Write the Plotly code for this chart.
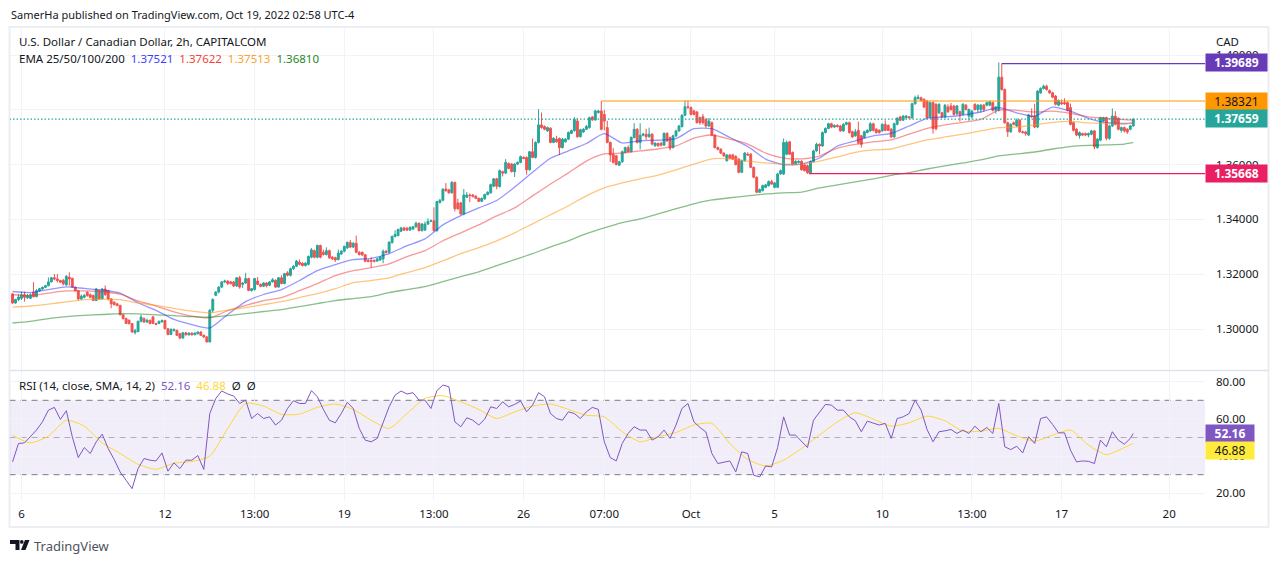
import plotly.graph_objects as go

# 2h candles, USDCAD (one row = 10 bars)
opens = [
1.3128,1.3095,1.3108,1.3112,1.3125,1.3114,1.3112,1.3134,1.3118,1.3140,
1.3146,1.3152,1.3158,1.3172,1.3187,1.3183,1.3177,1.3177,1.3161,1.3189,
1.3185,1.3153,1.3140,1.3110,1.3116,1.3134,1.3125,1.3122,1.3104,1.3140,
1.3110,1.3146,1.3140,1.3110,1.3098,1.3092,1.3086,1.3052,1.3038,1.3032,
1.3020,1.2987,1.2991,1.3028,1.3038,1.3026,1.3032,1.3044,1.3020,1.3020,
1.3026,1.3031,1.3001,1.2980,1.2995,1.2995,1.2983,1.2967,1.2986,1.2979,
1.2985,1.2979,1.2983,1.2989,1.2977,1.2971,1.2953,1.3068,1.3123,1.3135,
1.3153,1.3172,1.3175,1.3172,1.3172,1.3157,1.3187,1.3163,1.3168,1.3184,
1.3141,1.3144,1.3175,1.3163,1.3156,1.3168,1.3160,1.3172,1.3178,1.3153,
1.3187,1.3166,1.3205,1.3196,1.3220,1.3229,1.3244,1.3240,1.3232,1.3236,
1.3262,1.3286,1.3262,1.3305,1.3280,1.3272,1.3286,1.3262,1.3260,1.3254,
1.3274,1.3284,1.3296,1.3316,1.3299,1.3313,1.3280,1.3280,1.3271,1.3250,
1.3250,1.3250,1.3248,1.3252,1.3256,1.3284,1.3280,1.3315,1.3338,1.3341,
1.3357,1.3369,1.3368,1.3361,1.3365,1.3373,1.3386,1.3359,1.3361,1.3383,
1.3393,1.3395,1.3359,1.3462,1.3470,1.3511,1.3508,1.3497,1.3535,1.3460,
1.3460,1.3420,1.3481,1.3489,1.3489,1.3485,1.3477,1.3466,1.3475,1.3491,
1.3497,1.3521,1.3548,1.3520,1.3574,1.3569,1.3604,1.3602,1.3574,1.3602,
1.3608,1.3626,1.3626,1.3581,1.3647,1.3626,1.3681,1.3745,1.3739,1.3723,
1.3733,1.3681,1.3693,1.3695,1.3662,1.3683,1.3693,1.3714,1.3724,1.3759,
1.3702,1.3719,1.3729,1.3735,1.3774,1.3763,1.3790,1.3796,1.3783,1.3735,
1.3681,1.3638,1.3632,1.3598,1.3610,1.3644,1.3662,1.3647,1.3699,1.3729,
1.3681,1.3707,1.3711,1.3702,1.3711,1.3669,1.3677,1.3678,1.3671,1.3714,
1.3699,1.3662,1.3705,1.3723,1.3739,1.3780,1.3811,1.3808,1.3796,1.3792,
1.3771,1.3775,1.3765,1.3741,1.3753,1.3707,1.3662,1.3656,1.3642,1.3614,
1.3635,1.3635,1.3630,1.3620,1.3572,1.3614,1.3638,1.3638,1.3590,1.3554,
1.3499,1.3505,1.3517,1.3523,1.3538,1.3517,1.3517,1.3566,1.3566,1.3638,
1.3683,1.3644,1.3602,1.3608,1.3612,1.3599,1.3596,1.3570,1.3611,1.3650,
1.3674,1.3668,1.3717,1.3732,1.3749,1.3737,1.3743,1.3741,1.3723,1.3747,
1.3753,1.3720,1.3705,1.3725,1.3705,1.3699,1.3717,1.3723,1.3749,1.3729,
1.3725,1.3723,1.3747,1.3743,1.3729,1.3701,1.3747,1.3774,1.3762,1.3771,
1.3774,1.3771,1.3822,1.3841,1.3844,1.3838,1.3832,1.3774,1.3826,1.3820,
1.3789,1.3789,1.3774,1.3810,1.3814,1.3814,1.3786,1.3793,1.3783,1.3817,
1.3777,1.3774,1.3820,1.3801,1.3801,1.3817,1.3817,1.3817,1.3826,1.3798,
1.3798,1.3919,1.3874,1.3753,1.3720,1.3753,1.3741,1.3762,1.3720,1.3719,
1.3708,1.3777,1.3777,1.3737,1.3862,1.3878,1.3886,1.3870,1.3862,1.3850,
1.3817,1.3826,1.3826,1.3826,1.3808,1.3753,1.3729,1.3705,1.3713,1.3713,
1.3708,1.3711,1.3723,1.3662,1.3689,1.3759,1.3771,1.3696,1.3741,1.3777,
1.3769,1.3725,1.3735,1.3729,1.3729,1.3741,
]
highs = [
1.3131,1.3110,1.3128,1.3136,1.3136,1.3128,1.3130,1.3171,1.3146,1.3150,
1.3155,1.3161,1.3188,1.3190,1.3201,1.3201,1.3180,1.3183,1.3197,1.3207,
1.3187,1.3155,1.3142,1.3126,1.3128,1.3138,1.3130,1.3126,1.3150,1.3144,
1.3150,1.3159,1.3143,1.3112,1.3101,1.3095,1.3089,1.3055,1.3042,1.3035,
1.3022,1.3001,1.3031,1.3052,1.3042,1.3038,1.3034,1.3048,1.3023,1.3031,
1.3035,1.3034,1.3003,1.3002,1.3001,1.2998,1.2986,1.2989,1.2990,1.2988,
1.2988,1.2988,1.2991,1.2992,1.2980,1.2974,1.3074,1.3112,1.3138,1.3156,
1.3175,1.3180,1.3178,1.3176,1.3175,1.3190,1.3194,1.3171,1.3205,1.3187,
1.3150,1.3187,1.3190,1.3166,1.3171,1.3171,1.3175,1.3186,1.3181,1.3190,
1.3196,1.3205,1.3211,1.3224,1.3233,1.3252,1.3254,1.3244,1.3244,1.3268,
1.3296,1.3290,1.3308,1.3308,1.3290,1.3298,1.3290,1.3266,1.3264,1.3290,
1.3288,1.3305,1.3320,1.3325,1.3317,1.3341,1.3284,1.3283,1.3274,1.3255,
1.3262,1.3254,1.3260,1.3266,1.3290,1.3288,1.3320,1.3341,1.3360,1.3366,
1.3373,1.3373,1.3372,1.3375,1.3376,1.3392,1.3389,1.3387,1.3392,1.3404,
1.3400,1.3444,1.3468,1.3475,1.3514,1.3533,1.3511,1.3540,1.3538,1.3475,
1.3464,1.3511,1.3500,1.3495,1.3493,1.3488,1.3480,1.3480,1.3494,1.3503,
1.3531,1.3551,1.3552,1.3582,1.3578,1.3620,1.3608,1.3606,1.3606,1.3612,
1.3633,1.3630,1.3630,1.3650,1.3695,1.3685,1.3802,1.3790,1.3743,1.3739,
1.3736,1.3700,1.3705,1.3699,1.3697,1.3697,1.3721,1.3728,1.3773,1.3770,
1.3731,1.3733,1.3745,1.3775,1.3777,1.3800,1.3800,1.38321,1.3800,1.3760,
1.3684,1.3660,1.3636,1.3614,1.3651,1.3666,1.3670,1.3703,1.3751,1.3733,
1.3751,1.3716,1.3731,1.3735,1.3715,1.3682,1.3681,1.3682,1.3718,1.3718,
1.3702,1.3709,1.3727,1.3745,1.3784,1.3834,1.3834,1.3812,1.3800,1.3796,
1.3775,1.3785,1.3769,1.3770,1.3757,1.3711,1.3666,1.3660,1.3645,1.3639,
1.3639,1.3640,1.3634,1.3624,1.3618,1.3646,1.3645,1.3642,1.3593,1.3557,
1.3513,1.3527,1.3530,1.3542,1.3545,1.3537,1.3570,1.3582,1.3695,1.3688,
1.3687,1.3648,1.3616,1.3616,1.3616,1.3603,1.3600,1.3615,1.3654,1.3680,
1.3678,1.3721,1.3736,1.3753,1.3753,1.3747,1.3747,1.3745,1.3751,1.3757,
1.3757,1.3724,1.3730,1.3757,1.3709,1.3724,1.3729,1.3755,1.3753,1.3733,
1.3729,1.3751,1.3762,1.3747,1.3733,1.3753,1.3773,1.3778,1.3781,1.3781,
1.3778,1.3826,1.3852,1.3855,1.3848,1.3842,1.3836,1.3830,1.3830,1.3824,
1.3824,1.3793,1.3821,1.3820,1.3825,1.3818,1.3818,1.3797,1.3824,1.3821,
1.3805,1.3800,1.3824,1.3821,1.3821,1.3821,1.3830,1.3833,1.3830,1.3814,
1.3973,1.39689,1.3878,1.3757,1.3751,1.3757,1.3768,1.3766,1.3724,1.3723,
1.3785,1.3805,1.3822,1.3872,1.3882,1.3892,1.3892,1.3874,1.3866,1.3854,
1.3838,1.3838,1.3842,1.3830,1.3823,1.3757,1.3733,1.3721,1.3717,1.3717,
1.3717,1.3727,1.3727,1.3697,1.3775,1.3775,1.3775,1.3745,1.3805,1.3795,
1.3773,1.3739,1.3739,1.3733,1.3745,1.3769,
]
lows = [
1.3092,1.3092,1.3102,1.3106,1.3100,1.3110,1.3110,1.3115,1.3116,1.3136,
1.3143,1.3150,1.3156,1.3170,1.3178,1.3170,1.3168,1.3159,1.3158,1.3158,
1.3150,1.3137,1.3104,1.3106,1.3112,1.3118,1.3112,1.3102,1.3102,1.3106,
1.3108,1.3122,1.3104,1.3076,1.3086,1.3083,1.3050,1.3035,1.3018,1.3016,
1.2986,1.2980,1.2988,1.3024,1.3022,1.3022,1.3017,1.3018,1.3014,1.3018,
1.3024,1.2999,1.2977,1.2978,1.2990,1.2974,1.2963,1.2965,1.2976,1.2976,
1.2976,1.2977,1.2980,1.2975,1.2968,1.2951,1.2951,1.3060,1.3120,1.3130,
1.3150,1.3168,1.3160,1.3162,1.3154,1.3154,1.3147,1.3150,1.3165,1.3138,
1.3136,1.3140,1.3160,1.3152,1.3153,1.3152,1.3156,1.3170,1.3150,1.3151,
1.3163,1.3163,1.3192,1.3192,1.3216,1.3226,1.3232,1.3228,1.3228,1.3232,
1.3258,1.3258,1.3258,1.3258,1.3268,1.3268,1.3256,1.3252,1.3245,1.3250,
1.3270,1.3280,1.3292,1.3296,1.3296,1.3277,1.3268,1.3266,1.3244,1.3243,
1.3224,1.3243,1.3245,1.3248,1.3240,1.3276,1.3276,1.3312,1.3334,1.3338,
1.3354,1.3358,1.3358,1.3358,1.3362,1.3370,1.3356,1.3356,1.3358,1.3380,
1.3390,1.3356,1.3355,1.3458,1.3466,1.3501,1.3494,1.3494,1.3429,1.3435,
1.3416,1.3416,1.3478,1.3463,1.3480,1.3474,1.3463,1.3463,1.3472,1.3488,
1.3494,1.3518,1.3510,1.3516,1.3557,1.3566,1.3583,1.3571,1.3555,1.3598,
1.3605,1.3620,1.3563,1.3578,1.3623,1.3622,1.3677,1.3731,1.3725,1.3720,
1.3678,1.3678,1.3680,1.3635,1.3659,1.3680,1.3690,1.3711,1.3720,1.3698,
1.3699,1.3716,1.3726,1.3731,1.3760,1.3760,1.3786,1.3725,1.3725,1.3678,
1.3610,1.3604,1.3597,1.3595,1.3607,1.3641,1.3644,1.3644,1.3695,1.3677,
1.3655,1.3703,1.3690,1.3698,1.3670,1.3665,1.3665,1.3666,1.3668,1.3683,
1.3652,1.3659,1.3700,1.3720,1.3735,1.3777,1.3804,1.3780,1.3780,1.3750,
1.3745,1.3746,1.3735,1.3738,1.3704,1.3659,1.3652,1.3638,1.3628,1.3611,
1.3620,1.3617,1.3597,1.3568,1.3569,1.3611,1.3632,1.3587,1.3550,1.3496,
1.3496,1.3502,1.3514,1.3520,1.3526,1.3514,1.3514,1.3563,1.3562,1.3634,
1.3635,1.3598,1.3599,1.3604,1.3578,1.3575,1.35668,1.35668,1.3608,1.3647,
1.3638,1.3665,1.3714,1.3729,1.3733,1.3734,1.3735,1.3720,1.3720,1.3743,
1.3713,1.3698,1.3702,1.3674,1.3662,1.3695,1.3714,1.3720,1.3721,1.3713,
1.3713,1.3720,1.3722,1.3722,1.3698,1.3698,1.3743,1.3758,1.3759,1.3768,
1.3768,1.3767,1.3819,1.3838,1.3830,1.3806,1.3768,1.3770,1.3713,1.3725,
1.3785,1.3770,1.3770,1.3789,1.3797,1.3780,1.3780,1.3757,1.3780,1.3798,
1.3760,1.3768,1.3797,1.3790,1.3790,1.3792,1.3813,1.3813,1.3794,1.3786,
1.3794,1.3870,1.3749,1.3701,1.3716,1.3743,1.3737,1.3716,1.3713,1.3705,
1.3704,1.3771,1.3733,1.3733,1.3858,1.3874,1.3870,1.3858,1.3842,1.3816,
1.3813,1.3818,1.3818,1.3794,1.3743,1.3721,1.3704,1.3695,1.3704,1.3704,
1.3700,1.3707,1.3656,1.3658,1.3685,1.3755,1.3688,1.3690,1.3737,1.3743,
1.3725,1.3717,1.3717,1.3712,1.3725,1.3738,
]
closes = [
1.3095,1.3108,1.3117,1.3125,1.3116,1.3122,1.3125,1.3118,1.3140,1.3147,
1.3152,1.3158,1.3172,1.3187,1.3183,1.3177,1.3171,1.3165,1.3192,1.3183,
1.3153,1.3140,1.3110,1.3120,1.3122,1.3122,1.3116,1.3104,1.3146,1.3110,
1.3146,1.3125,1.3110,1.3092,1.3089,1.3086,1.3052,1.3038,1.3020,1.3020,
1.2989,1.2994,1.3028,1.3044,1.3026,1.3032,1.3020,1.3020,1.3017,1.3028,
1.3031,1.3001,1.2980,1.2999,1.2999,1.2977,1.2967,1.2986,1.2979,1.2985,
1.2979,1.2985,1.2989,1.2977,1.2971,1.2953,1.3068,1.3108,1.3135,1.3153,
1.3172,1.3175,1.3166,1.3166,1.3157,1.3187,1.3153,1.3168,1.3184,1.3141,
1.3147,1.3184,1.3163,1.3156,1.3168,1.3158,1.3172,1.3180,1.3153,1.3187,
1.3166,1.3202,1.3196,1.3220,1.3229,1.3248,1.3236,1.3232,1.3240,1.3265,
1.3289,1.3262,1.3305,1.3262,1.3272,1.3286,1.3260,1.3256,1.3252,1.3277,
1.3284,1.3301,1.3316,1.3299,1.3313,1.3280,1.3272,1.3271,1.3247,1.3247,
1.3247,1.3247,1.3256,1.3262,1.3284,1.3280,1.3317,1.3338,1.3345,1.3363,
1.3369,1.3361,1.3361,1.3371,1.3373,1.3386,1.3359,1.3383,1.3383,1.3393,
1.3395,1.3359,1.3465,1.3470,1.3510,1.3505,1.3497,1.3535,1.3439,1.3439,
1.3420,1.3489,1.3489,1.3487,1.3485,1.3477,1.3466,1.3477,1.3491,1.3499,
1.3527,1.3548,1.3521,1.3578,1.3569,1.3608,1.3586,1.3575,1.3602,1.3608,
1.3629,1.3623,1.3581,1.3647,1.3626,1.3681,1.3745,1.3735,1.3729,1.3735,
1.3681,1.3696,1.3683,1.3662,1.3693,1.3693,1.3717,1.3724,1.3765,1.3702,
1.3727,1.3729,1.3739,1.3771,1.3763,1.3796,1.3796,1.3729,1.3759,1.3681,
1.3635,1.3608,1.3600,1.3610,1.3647,1.3662,1.3647,1.3699,1.3729,1.3681,
1.3707,1.3711,1.3702,1.3711,1.3675,1.3678,1.3669,1.3671,1.3714,1.3687,
1.3660,1.3705,1.3723,1.3741,1.3780,1.3811,1.3808,1.3783,1.3783,1.3753,
1.3753,1.3753,1.3741,1.3759,1.3707,1.3662,1.3656,1.3642,1.3632,1.3635,
1.3623,1.3620,1.3600,1.3572,1.3614,1.3642,1.3635,1.3590,1.3554,1.3499,
1.3509,1.3523,1.3526,1.3538,1.3529,1.3533,1.3566,1.3578,1.3681,1.3681,
1.3638,1.3602,1.3612,1.3612,1.3581,1.3578,1.3570,1.3611,1.3650,1.3674,
1.3668,1.3717,1.3732,1.3749,1.3737,1.3743,1.3739,1.3723,1.3747,1.3753,
1.3717,1.3701,1.3720,1.3680,1.3674,1.3720,1.3725,1.3749,1.3725,1.3717,
1.3717,1.3747,1.3725,1.3725,1.3701,1.3749,1.3769,1.3762,1.3777,1.3777,
1.3771,1.3822,1.3844,1.3846,1.3834,1.3810,1.3771,1.3826,1.3731,1.3731,
1.3820,1.3774,1.3817,1.3793,1.3801,1.3783,1.3814,1.3781,1.3820,1.3801,
1.3801,1.3795,1.3801,1.3817,1.3817,1.3801,1.3826,1.3829,1.3798,1.3810,
1.3919,1.3874,1.3753,1.3720,1.3747,1.3747,1.3762,1.3720,1.3717,1.3713,
1.3781,1.3775,1.3737,1.3868,1.3878,1.3886,1.3874,1.3862,1.3846,1.3820,
1.3834,1.3822,1.3822,1.3798,1.3747,1.3725,1.3708,1.3717,1.3708,1.3708,
1.3713,1.3723,1.3665,1.3693,1.3771,1.3771,1.3696,1.3741,1.3777,1.3747,
1.3729,1.3735,1.3723,1.3719,1.3741,1.37659,
]
bar_index = list(range(len(closes)))

# EMAs and the RSI signal, read every 6th bar
sample_x = list(range(0, 373, 6)) + [375]
ema25 = [
1.3137,1.3133,1.3144,1.3154,1.3148,1.3142,1.3131,1.3096,1.3068,1.3035,1.3016,1.3004,
1.3053,1.3100,1.3126,1.3144,1.3177,1.3213,1.3235,1.3253,1.3258,1.3275,1.3304,1.3329,
1.3380,1.3414,1.3442,1.3469,1.3518,1.3572,1.3623,1.3650,1.3677,1.3713,
1.3679,1.3687,1.3689,1.3695,1.3731,1.3731,1.3699,1.3666,1.3620,1.3600,1.3602,
1.3624,1.3668,1.3687,1.3705,1.3714,1.3741,1.3769,1.3774,1.3781,1.3792,
1.3808,1.3789,1.3777,1.3810,1.3795,1.3769,1.3753,1.3750,1.37521,
]
ema50 = [
1.3125,1.3122,1.3131,1.3139,1.3139,1.3136,1.3127,1.3103,1.3084,1.3063,1.3047,1.3041,
1.3067,1.3086,1.3104,1.3115,1.3140,1.3166,1.3195,1.3213,1.3224,1.3238,1.3264,1.3286,
1.3322,1.3351,1.3380,1.3413,1.3442,1.3486,1.3529,1.3570,1.3613,1.3639,
1.3642,1.3650,1.3657,1.3668,1.3697,1.3708,1.3693,1.3675,1.3642,1.3624,1.3621,
1.3631,1.3660,1.3674,1.3683,1.3690,1.3711,1.3732,1.3745,1.3754,1.3765,
1.3799,1.3798,1.3792,1.3795,1.3787,1.3774,1.3769,1.3764,1.37622,
]
ema100 = [
1.3080,1.3084,1.3091,1.3099,1.3107,1.3109,1.3107,1.3095,1.3086,1.3075,1.3065,1.3059,
1.3069,1.3078,1.3089,1.3100,1.3115,1.3129,1.3147,1.3169,1.3177,1.3187,1.3206,1.3224,
1.3249,1.3275,1.3297,1.3322,1.3351,1.3384,1.3417,1.3450,1.3486,1.3515,
1.3533,1.3548,1.3562,1.3581,1.3602,1.3621,1.3621,1.3613,1.3606,1.3602,1.3602,
1.3613,1.3628,1.3645,1.3654,1.3657,1.3674,1.3690,1.3701,1.3711,1.3723,
1.3735,1.3737,1.3745,1.3754,1.3758,1.3752,1.3750,1.3748,1.37513,
]
ema200 = [
1.3022,1.3028,1.3038,1.3045,1.3050,1.3053,1.3056,1.3055,1.3052,1.3049,1.3045,1.3043,
1.3049,1.3056,1.3064,1.3071,1.3082,1.3093,1.3104,1.3111,1.3118,1.3133,1.3144,1.3155,
1.3173,1.3191,1.3209,1.3231,1.3253,1.3275,1.3300,1.3322,1.3348,1.3369,
1.3388,1.3402,1.3420,1.3439,1.3457,1.3471,1.3479,1.3486,1.3493,1.3497,1.3500,
1.3515,1.3526,1.3537,1.3548,1.3561,1.3571,1.3584,1.3595,1.3606,1.3617,
1.3632,1.3639,1.3646,1.3657,1.3666,1.3670,1.3672,1.3675,1.36810,
]
rsi_sma = [
51.1,47.1,50.7,59.3,56.1,47.1,41.4,35.6,32.9,36.2,37.1,40.0,
54.9,68.3,66.9,62.4,62.6,66.2,68.0,65.1,59.3,54.9,62.9,
71.0,72.5,69.2,65.1,60.2,63.8,66.9,68.0,65.1,62.0,61.1,
53.1,47.7,50.4,52.7,56.7,57.6,46.8,38.2,34.7,37.8,44.1,
51.3,58.4,63.3,59.9,56.1,57.9,61.5,59.0,53.4,53.4,
54.9,50.9,48.0,51.3,54.0,45.9,40.8,44.6,46.88,
]

# RSI, read every 2nd bar
rsi_x = list(range(0, 375, 2)) + [375]
rsi = [
36.9,46.8,47.1,50.7,54.0,58.4,64.7,66.2,59.7,64.4,
50.4,39.2,44.6,41.4,47.7,51.8,44.1,38.2,31.5,27.0,
22.5,33.3,38.7,37.8,37.4,41.7,31.9,36.4,33.3,37.8,
37.8,40.3,32.8,62.9,71.0,75.0,73.4,72.3,68.3,70.1,
60.2,62.9,60.2,61.1,56.7,59.3,65.6,69.8,68.3,68.3,
75.2,71.9,65.1,59.3,57.9,62.9,68.9,65.6,54.9,48.6,
47.7,49.5,58.4,66.5,72.8,75.0,73.4,74.1,70.1,70.1,
65.6,75.2,78.2,77.3,58.4,55.8,60.6,59.3,56.7,59.9,
66.5,65.6,69.2,66.5,67.8,69.6,63.8,67.4,74.1,71.9,
62.9,60.2,59.3,63.8,62.9,60.2,63.8,66.2,65.1,47.7,
39.2,37.4,46.8,52.2,55.8,54.0,54.0,48.6,50.4,54.0,
49.5,56.7,65.6,68.3,58.4,55.4,53.0,41.4,36.0,36.9,
37.4,31.5,42.3,41.4,29.7,28.8,34.7,34.2,44.6,61.1,
51.3,51.3,47.7,44.6,59.3,63.8,67.8,67.4,64.7,64.7,
61.1,59.0,53.1,58.8,57.6,56.7,57.6,49.5,60.2,61.1,
62.9,70.1,64.7,54.3,47.7,53.1,53.6,54.3,52.2,54.0,
52.2,56.1,53.1,55.4,52.2,68.3,45.0,43.5,45.3,41.7,
50.4,46.8,60.2,61.1,57.0,52.5,52.5,43.2,36.9,37.4,
37.2,36.0,48.6,45.0,53.1,48.6,46.4,49.5,52.16,
]

tick_bars = [3, 51, 81, 111, 141, 171, 198, 227, 255, 291, 321, 351, 387]
tick_labels = ['6', '12', '13:00', '19', '13:00', '26', '07:00', 'Oct', '5', '10', '13:00', '17', '20']
price_ticks = [1.30, 1.32, 1.34, 1.36, 1.38, 1.40]
rsi_ticks = [20, 40, 60, 80]

level_high = 1.39689
level_mid = 1.38321
level_low = 1.35668
last_price = 1.37659

FONT = 'Noto Sans'
X_END = 399
GRID = '#f0f3fa'


# plot area sits at 10..1205.5 x 27..500 in page pixels (the page adds 8px of body margin)
def px(x):
    return (x - 10) / 1195.5


def py(y):
    return (500 - y) / 473


fig = go.Figure()
fig.add_trace(go.Candlestick(x=bar_index, open=opens, high=highs, low=lows, close=closes,
                             increasing=dict(line=dict(color='#26a69a', width=1), fillcolor='#26a69a'),
                             decreasing=dict(line=dict(color='#ef5350', width=1), fillcolor='#ef5350'),
                             whiskerwidth=0, hoverinfo='skip', xaxis='x', yaxis='y'))
for vals, col in [(ema25, 'rgba(45,45,255,0.5)'), (ema50, 'rgba(244,50,50,0.5)'),
                  (ema100, 'rgba(255,150,20,0.55)'), (ema200, 'rgba(20,125,20,0.5)')]:
    fig.add_trace(go.Scatter(x=sample_x, y=vals, mode='lines', hoverinfo='skip',
                             line=dict(color=col, width=1.3, shape='spline', smoothing=0.6),
                             xaxis='x', yaxis='y'))
fig.add_trace(go.Scatter(x=sample_x, y=rsi_sma, mode='lines', hoverinfo='skip',
                         line=dict(color='#fdd835', width=1, shape='spline', smoothing=0.6),
                         xaxis='x2', yaxis='y2'))
fig.add_trace(go.Scatter(x=rsi_x, y=rsi, mode='lines', hoverinfo='skip',
                         line=dict(color='#7e57c2', width=1),
                         xaxis='x2', yaxis='y2'))

shapes = [
    dict(type='rect', xref='x2', yref='y2', x0=-1, x1=X_END, y0=30, y1=70, layer='below',
         fillcolor='rgba(126,87,194,0.1)', line_width=0),
    dict(type='line', xref='x2', yref='y2', x0=-1, x1=X_END, y0=70, y1=70, layer='below',
         line=dict(color='#787b86', width=1, dash='6px,5px')),
    dict(type='line', xref='x2', yref='y2', x0=-1, x1=X_END, y0=30, y1=30, layer='below',
         line=dict(color='#787b86', width=1, dash='6px,5px')),
    dict(type='line', xref='x2', yref='y2', x0=-1, x1=X_END, y0=50, y1=50, layer='below',
         line=dict(color='rgba(120,123,134,0.55)', width=1, dash='6px,5px')),
    dict(type='line', xref='x', yref='y', x0=-1, x1=X_END, y0=last_price, y1=last_price,
         line=dict(color='#26a69a', width=1.2, dash='1.5px,2px')),
    dict(type='line', xref='x', yref='y', x0=331, x1=X_END, y0=level_high, y1=level_high,
         line=dict(color='#673ab7', width=1.2)),
    dict(type='line', xref='x', yref='y', x0=197, x1=X_END, y0=level_mid, y1=level_mid,
         line=dict(color='#ff9800', width=1.2)),
    dict(type='line', xref='x', yref='y', x0=266.5, x1=X_END, y0=level_low, y1=level_low,
         line=dict(color='#e91e63', width=1.2)),
    # frame and pane divider
    dict(type='rect', xref='paper', yref='paper', x0=px(9.5), x1=px(1269), y0=py(527), y1=py(27),
         line=dict(color='#eceef4', width=2), layer='below'),
    dict(type='line', xref='paper', yref='paper', x0=px(9.5), x1=px(1269), y0=py(370.5), y1=py(370.5),
         line=dict(color='#e0e3eb', width=1.5)),
    # TradingView logo
    dict(type='path', xref='paper', yref='paper', fillcolor='#131722', line_width=0,
         path=f'M {px(10)} {py(540)} H {px(19.5)} V {py(550)} H {px(15.5)} V {py(544)} H {px(10)} Z'),
    dict(type='circle', xref='paper', yref='paper', fillcolor='#131722', line_width=0,
         x0=px(20), x1=px(23.6), y0=py(540), y1=py(543.8)),
    dict(type='path', xref='paper', yref='paper', fillcolor='#131722', line_width=0,
         path=f'M {px(25)} {py(540)} H {px(29.5)} L {px(25.5)} {py(550)} H {px(21)} Z'),
]

annotations = []


def add_text(x, y, text, size=12, color='#131722', anchor='left'):
    annotations.append(dict(xref='paper', yref='paper', x=px(x), y=py(y), text=text, showarrow=False,
                            xanchor=anchor, yanchor='middle', align=anchor, borderpad=0,
                            font=dict(family=FONT, size=size, color=color)))


def add_tag(y, text, bg, color, width=59):
    annotations.append(dict(xref='paper', yref='paper', x=px(1206), y=py(y), text=f'<b>{text}</b>' if color == '#ffffff' else text,
                            showarrow=False, xanchor='left', yanchor='middle', width=width, height=15,
                            align='center', valign='middle', bgcolor=bg, borderpad=1,
                            font=dict(family=FONT, size=12, color=color)))


add_text(10, 14.5, 'SamerHa published on TradingView.com, Oct 19, 2022 02:58 UTC-4', size=11)
add_text(18, 41.5, 'U.S. Dollar / Canadian Dollar, 2h, CAPITALCOM', size=11.5)
add_text(18, 58.5, 'EMA 25/50/100/200&nbsp;&nbsp;<span style="color:#3d3dff">1.37521</span>&nbsp;&nbsp;'
                   '<span style="color:#f44336">1.37622</span>&nbsp;&nbsp;'
                   '<span style="color:#ff9f2e">1.37513</span>&nbsp;&nbsp;'
                   '<span style="color:#1f8a1f">1.36810</span>', size=11.5)
add_text(18, 386, 'RSI (14, close, SMA, 14, 2)&nbsp;&nbsp;<span style="color:#7e57c2">52.16</span>&nbsp;&nbsp;'
                  '<span style="color:#fdd835">46.88</span>&nbsp;&nbsp;Ø&nbsp;&nbsp;Ø', size=11.5)
add_text(1216, 41, 'CAD', size=11.5)
add_text(33, 545.5, 'TradingView', size=13, color='#50535e')

add_tag(63, '1.39689', '#673ab7', '#ffffff')
add_tag(101.5, '1.38321', '#ff9800', '#131722')
add_tag(119, '1.37659', '#26a69a', '#ffffff')
add_tag(174, '1.35668', '#e91e63', '#ffffff')
add_tag(433.5, '52.16', '#7e57c2', '#ffffff', width=46)
add_tag(450, '46.88', '#ffeb3b', '#131722', width=46)

axis_font = dict(family=FONT, size=11.5, color='#131722')
fig.update_layout(
    width=1272, height=555,
    margin=dict(l=2, r=74.5, t=19, b=63, pad=0),
    autosize=False,
    showlegend=False,
    paper_bgcolor='white',
    plot_bgcolor='white',
    font=dict(family=FONT),
    boxgap=0.1,
    shapes=shapes,
    annotations=annotations,
    xaxis=dict(domain=[0, 1], range=[-0.85, X_END], anchor='y', rangeslider=dict(visible=False),
               tickmode='array', tickvals=tick_bars, ticktext=tick_labels, showticklabels=False,
               showgrid=True, gridcolor=GRID, gridwidth=1, zeroline=False, matches='x2', ticks=''),
    xaxis2=dict(domain=[0, 1], range=[-0.85, X_END], anchor='y2',
                tickmode='array', tickvals=tick_bars, ticktext=tick_labels, tickfont=axis_font,
                tickangle=0, ticklabelstandoff=5,
                showgrid=True, gridcolor=GRID, gridwidth=1, zeroline=False, ticks=''),
    yaxis=dict(domain=[0.2748, 1], range=[1.28504, 1.41022], anchor='x', side='right',
               tickmode='array', tickvals=price_ticks, tickformat='.5f', tickfont=axis_font,
               ticklabelstandoff=10, showgrid=True, gridcolor=GRID, gridwidth=1, zeroline=False, ticks=''),
    yaxis2=dict(domain=[0, 0.2727], range=[16.4, 85.75], anchor='x2', side='right',
                tickmode='array', tickvals=rsi_ticks, tickformat='.2f', tickfont=axis_font,
                ticklabelstandoff=10, showgrid=True, gridcolor=GRID, gridwidth=1, zeroline=False, ticks=''),
)

fig.write_html("out.html")
